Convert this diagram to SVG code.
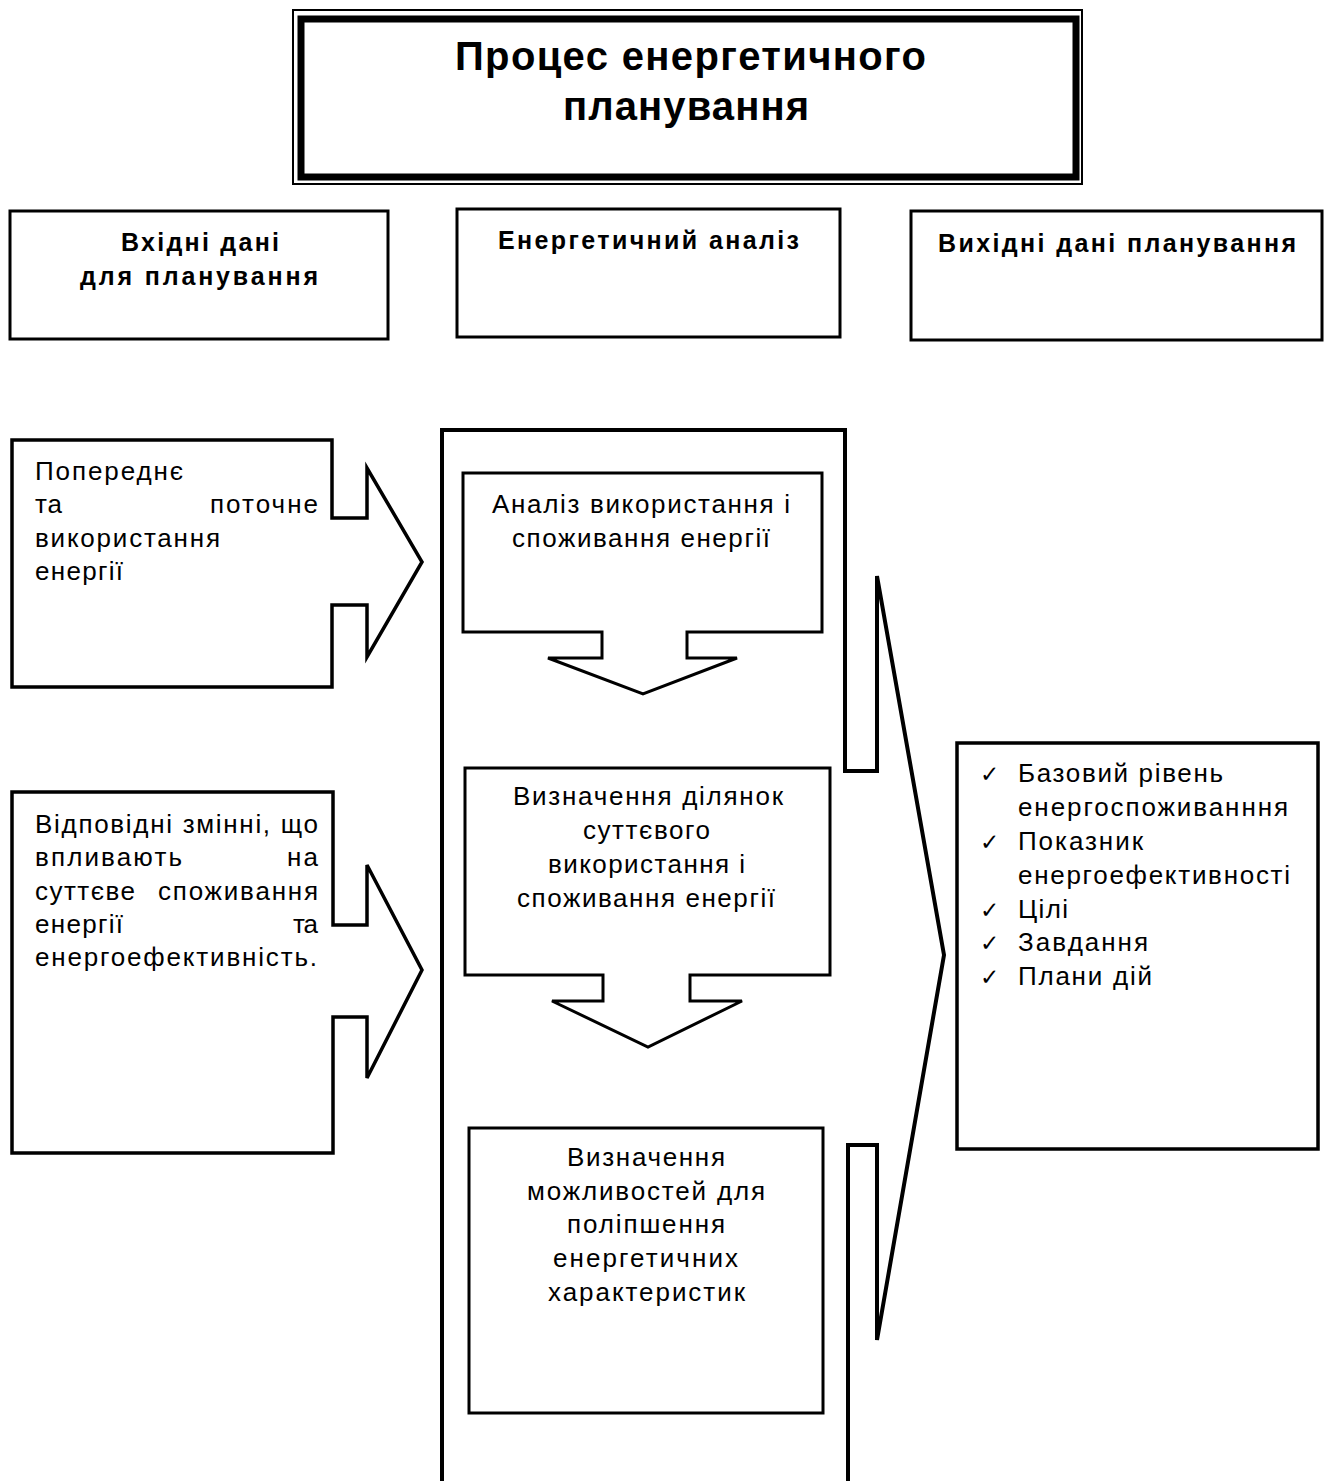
<svg xmlns="http://www.w3.org/2000/svg" width="1324" height="1481" viewBox="0 0 1324 1481">
<style>
.s{fill:#fff;stroke:#000;stroke-linejoin:miter}
.t{font-family:"Liberation Sans",Arial,sans-serif;font-size:26px;fill:#000}
.h{font-family:"Liberation Sans",Arial,sans-serif;font-size:25px;font-weight:bold;fill:#000}
.ti{font-family:"Liberation Sans",Arial,sans-serif;font-size:40px;font-weight:bold;fill:#000}
.ck{font-family:"DejaVu Sans",sans-serif;font-size:23px;fill:#000}
</style>
<rect width="1324" height="1481" fill="#fff"/>

<g id="title">
<rect class="s" x="293" y="10" width="789" height="174" stroke-width="2"/>
<rect class="s" x="301" y="19" width="775" height="158" stroke-width="7"/>
<text class="ti" x="455" y="70" textLength="471" lengthAdjust="spacing">Процес енергетичного</text>
<text class="ti" x="563" y="120" textLength="246" lengthAdjust="spacing">планування</text>
</g>

<g id="header-input">
<rect class="s" x="10" y="211" width="378" height="128" stroke-width="3"/>
<text class="h" x="121" y="251" textLength="158" lengthAdjust="spacing">Вхідні дані</text>
<text class="h" x="80" y="285" textLength="238" lengthAdjust="spacing">для планування</text>
</g>

<g id="header-analysis">
<rect class="s" x="457" y="209" width="383" height="128" stroke-width="3"/>
<text class="h" x="498" y="249" textLength="301" lengthAdjust="spacing">Енергетичний аналіз</text>
</g>

<g id="header-output">
<rect class="s" x="911" y="211" width="411" height="129" stroke-width="3"/>
<text class="h" x="938" y="252" textLength="358" lengthAdjust="spacing">Вихідні дані планування</text>
</g>

<g id="input-usage">
<path class="s" stroke-width="3.5" d="M12,440 H332 V518 H367 V468 L422,562 L367,657 V605 H332 V687 H12 Z"/>
<text class="t" x="35" y="480" textLength="148" lengthAdjust="spacing">Попереднє</text>
<text class="t" x="35" y="513" textLength="27" lengthAdjust="spacing">та</text>
<text class="t" x="210" y="513" textLength="108" lengthAdjust="spacing">поточне</text>
<text class="t" x="35" y="547" textLength="185" lengthAdjust="spacing">використання</text>
<text class="t" x="35" y="580" textLength="88" lengthAdjust="spacing">енергії</text>
</g>

<g id="input-variables">
<path class="s" stroke-width="3.5" d="M12,792 H333 V925 H367 V865 L422,970 L367,1078 V1017 H333 V1153 H12 Z"/>
<text class="t" x="35" y="833" textLength="283" lengthAdjust="spacing">Відповідні змінні, що</text>
<text class="t" x="35" y="866" textLength="147" lengthAdjust="spacing">впливають</text>
<text class="t" x="287" y="866" textLength="31" lengthAdjust="spacing">на</text>
<text class="t" x="35" y="900" textLength="100" lengthAdjust="spacing">суттєве</text>
<text class="t" x="158" y="900" textLength="160" lengthAdjust="spacing">споживання</text>
<text class="t" x="35" y="933" textLength="88" lengthAdjust="spacing">енергії</text>
<text class="t" x="293" y="933" textLength="25" lengthAdjust="spacing">та</text>
<text class="t" x="35" y="966" textLength="282" lengthAdjust="spacing">енергоефективність.</text>
</g>

<g id="analysis">
<path class="s" stroke-width="4" d="M442,1490 V430 H845 V771 H877 V576 L944,955 L877,1340 V1145 H848 V1490"/>
</g>

<g id="step-usage">
<path class="s" stroke-width="3" d="M463,473 H822 V632 H687 V658 H737 L643,694 L548,658 H602 V632 H463 Z"/>
<text class="t" x="492" y="513" textLength="298" lengthAdjust="spacing">Аналіз використання і</text>
<text class="t" x="512" y="547" textLength="258" lengthAdjust="spacing">споживання енергії</text>
</g>

<g id="step-areas">
<path class="s" stroke-width="3" d="M465,768 H830 V975 H690 V1001 H742 L648,1047 L552,1001 H603 V975 H465 Z"/>
<text class="t" x="513" y="805" textLength="270" lengthAdjust="spacing">Визначення ділянок</text>
<text class="t" x="583" y="839" textLength="127" lengthAdjust="spacing">суттєвого</text>
<text class="t" x="548" y="873" textLength="197" lengthAdjust="spacing">використання і</text>
<text class="t" x="517" y="907" textLength="258" lengthAdjust="spacing">споживання енергії</text>
</g>

<g id="step-opportunities">
<rect class="s" x="469" y="1128" width="354" height="285" stroke-width="3"/>
<text class="t" x="567" y="1166" textLength="158" lengthAdjust="spacing">Визначення</text>
<text class="t" x="527" y="1200" textLength="238" lengthAdjust="spacing">можливостей для</text>
<text class="t" x="567" y="1233" textLength="158" lengthAdjust="spacing">поліпшення</text>
<text class="t" x="553" y="1267" textLength="185" lengthAdjust="spacing">енергетичних</text>
<text class="t" x="548" y="1301" textLength="197" lengthAdjust="spacing">характеристик</text>
</g>

<g id="outputs">
<rect class="s" x="957" y="743" width="361" height="406" stroke-width="3.5"/>
<text class="ck" x="980" y="782">✓</text>
<text class="t" x="1018" y="782" textLength="205" lengthAdjust="spacing">Базовий рівень</text>
<text class="t" x="1018" y="816" textLength="270" lengthAdjust="spacing">енергоспоживанння</text>
<text class="ck" x="980" y="850">✓</text>
<text class="t" x="1018" y="850" textLength="125" lengthAdjust="spacing">Показник</text>
<text class="t" x="1018" y="884" textLength="272" lengthAdjust="spacing">енергоефективності</text>
<text class="ck" x="980" y="918">✓</text>
<text class="t" x="1018" y="918" textLength="50" lengthAdjust="spacing">Цілі</text>
<text class="ck" x="980" y="951">✓</text>
<text class="t" x="1018" y="951" textLength="130" lengthAdjust="spacing">Завдання</text>
<text class="ck" x="980" y="985">✓</text>
<text class="t" x="1018" y="985" textLength="134" lengthAdjust="spacing">Плани дій</text>
</g>

<g id="connectors"></g>
</svg>
